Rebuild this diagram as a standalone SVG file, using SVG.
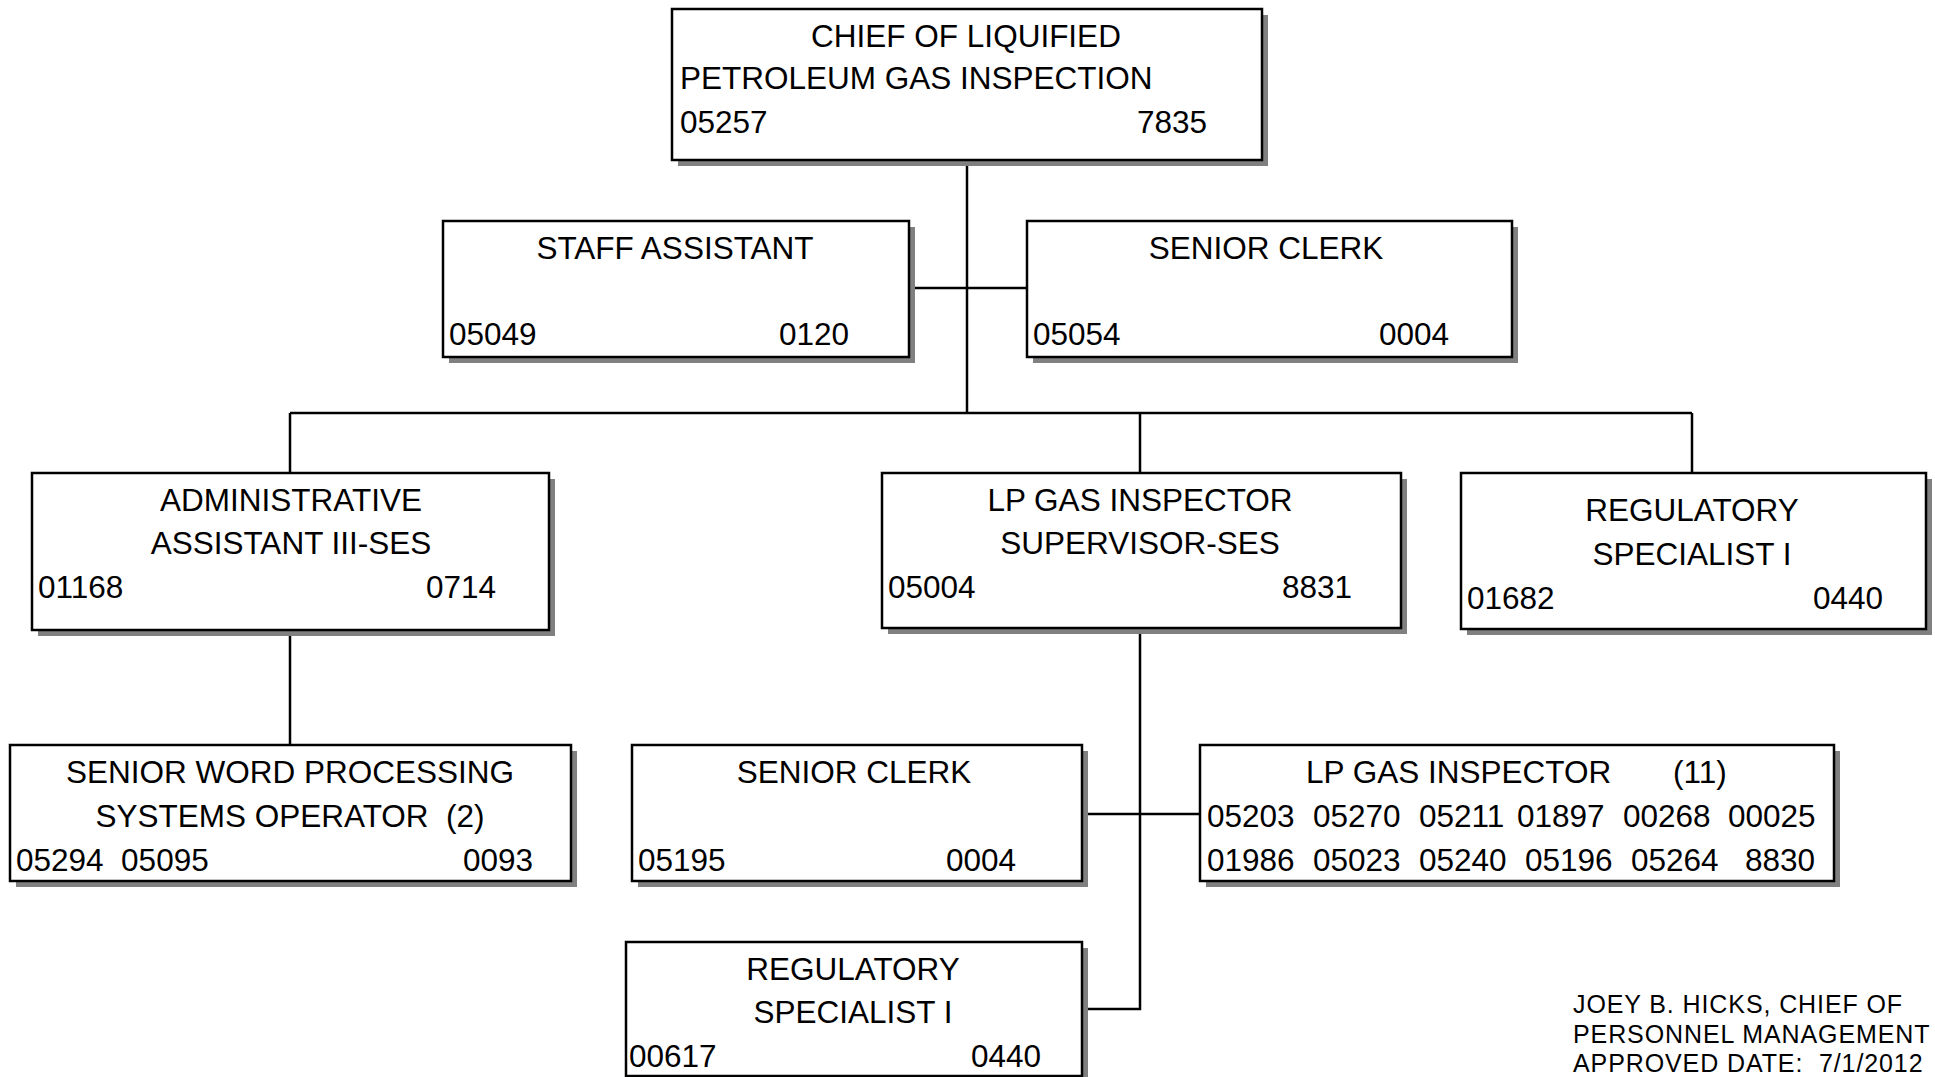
<svg xmlns="http://www.w3.org/2000/svg" width="1935" height="1077" viewBox="0 0 1935 1077">
  <style>
    .box { fill: #ffffff; stroke: #000000; stroke-width: 2.5; }
    .shadow { fill: #808080; }
    .t { font-family: "Liberation Sans", Arial, sans-serif; font-size: 31.5px; fill: #000000; }
    .c { text-anchor: middle; }
    .e { text-anchor: end; }
    .link { fill: none; stroke: #000000; stroke-width: 2.5; }
    .note { font-family: "Liberation Sans", Arial, sans-serif; font-size: 25px; letter-spacing: 0.9px; fill: #000000; }
  </style>

  <!-- connectors -->
  <g id="connectors">
    <path class="link" d="M967 160 V413"/>
    <path class="link" d="M909 288 H1027"/>
    <path class="link" d="M290 413 H1692"/>
    <path class="link" d="M290 413 V473"/>
    <path class="link" d="M1140 413 V473"/>
    <path class="link" d="M1692 413 V473"/>
    <path class="link" d="M290 630 V745"/>
    <path class="link" d="M1140 628 V1009 H1082"/>
    <path class="link" d="M1082 814 H1200"/>
  </g>

  <g id="chief">
    <rect class="shadow" x="678" y="15" width="590" height="151"/>
    <rect class="box" x="672" y="9" width="590" height="151"/>
    <text class="t c" x="966" y="47">CHIEF OF LIQUIFIED</text>
    <text class="t" x="680" y="89">PETROLEUM GAS INSPECTION</text>
    <text class="t" x="680" y="133">05257</text>
    <text class="t e" x="1207" y="133">7835</text>
  </g>

  <g id="staff-assistant">
    <rect class="shadow" x="449" y="227" width="466" height="136"/>
    <rect class="box" x="443" y="221" width="466" height="136"/>
    <text class="t c" x="675" y="259">STAFF ASSISTANT</text>
    <text class="t" x="449" y="345">05049</text>
    <text class="t e" x="849" y="345">0120</text>
  </g>

  <g id="senior-clerk-05054">
    <rect class="shadow" x="1033" y="227" width="485" height="136"/>
    <rect class="box" x="1027" y="221" width="485" height="136"/>
    <text class="t c" x="1266" y="259">SENIOR CLERK</text>
    <text class="t" x="1033" y="345">05054</text>
    <text class="t e" x="1449" y="345">0004</text>
  </g>

  <g id="admin-assistant">
    <rect class="shadow" x="38" y="479" width="517" height="157"/>
    <rect class="box" x="32" y="473" width="517" height="157"/>
    <text class="t c" x="291" y="511">ADMINISTRATIVE</text>
    <text class="t c" x="291" y="554">ASSISTANT III-SES</text>
    <text class="t" x="38" y="598">01168</text>
    <text class="t e" x="496" y="598">0714</text>
  </g>

  <g id="lp-gas-supervisor">
    <rect class="shadow" x="888" y="479" width="519" height="155"/>
    <rect class="box" x="882" y="473" width="519" height="155"/>
    <text class="t c" x="1140" y="511">LP GAS INSPECTOR</text>
    <text class="t c" x="1140" y="554">SUPERVISOR-SES</text>
    <text class="t" x="888" y="598">05004</text>
    <text class="t e" x="1352" y="598">8831</text>
  </g>

  <g id="regulatory-specialist-01682">
    <rect class="shadow" x="1467" y="479" width="465" height="156"/>
    <rect class="box" x="1461" y="473" width="465" height="156"/>
    <text class="t c" x="1692" y="521">REGULATORY</text>
    <text class="t c" x="1692" y="565">SPECIALIST I</text>
    <text class="t" x="1467" y="609">01682</text>
    <text class="t e" x="1883" y="609">0440</text>
  </g>

  <g id="word-processing-operator">
    <rect class="shadow" x="16" y="751" width="561" height="136"/>
    <rect class="box" x="10" y="745" width="561" height="136"/>
    <text class="t c" x="290" y="783">SENIOR WORD PROCESSING</text>
    <text class="t c" x="290" y="827" xml:space="preserve">SYSTEMS OPERATOR  (2)</text>
    <text class="t" x="16" y="871" xml:space="preserve">05294  05095</text>
    <text class="t e" x="533" y="871">0093</text>
  </g>

  <g id="senior-clerk-05195">
    <rect class="shadow" x="638" y="751" width="450" height="136"/>
    <rect class="box" x="632" y="745" width="450" height="136"/>
    <text class="t c" x="854" y="783">SENIOR CLERK</text>
    <text class="t" x="638" y="871">05195</text>
    <text class="t e" x="1016" y="871">0004</text>
  </g>

  <g id="lp-gas-inspector">
    <rect class="shadow" x="1206" y="751" width="634" height="136"/>
    <rect class="box" x="1200" y="745" width="634" height="136"/>
    <text class="t" x="1306" y="783">LP GAS INSPECTOR</text>
    <text class="t" x="1673" y="783">(11)</text>
    <text class="t" y="827"><tspan x="1207">05203</tspan><tspan x="1313">05270</tspan><tspan x="1419">05211</tspan><tspan x="1517">01897</tspan><tspan x="1623">00268</tspan><tspan x="1728">00025</tspan></text>
    <text class="t" y="871"><tspan x="1207">01986</tspan><tspan x="1313">05023</tspan><tspan x="1419">05240</tspan><tspan x="1525">05196</tspan><tspan x="1631">05264</tspan><tspan x="1745">8830</tspan></text>
  </g>

  <g id="regulatory-specialist-00617">
    <rect class="shadow" x="632" y="948" width="456" height="140"/>
    <rect class="box" x="626" y="942" width="456" height="134"/>
    <text class="t c" x="853" y="980">REGULATORY</text>
    <text class="t c" x="853" y="1023">SPECIALIST I</text>
    <text class="t" x="629" y="1067">00617</text>
    <text class="t e" x="1041" y="1067">0440</text>
  </g>

  <g id="approval">
    <text class="note" x="1573" y="1013">JOEY B. HICKS, CHIEF OF</text>
    <text class="note" x="1573" y="1043">PERSONNEL MANAGEMENT</text>
    <text class="note" x="1573" y="1072" xml:space="preserve">APPROVED DATE:  7/1/2012</text>
  </g>
</svg>
